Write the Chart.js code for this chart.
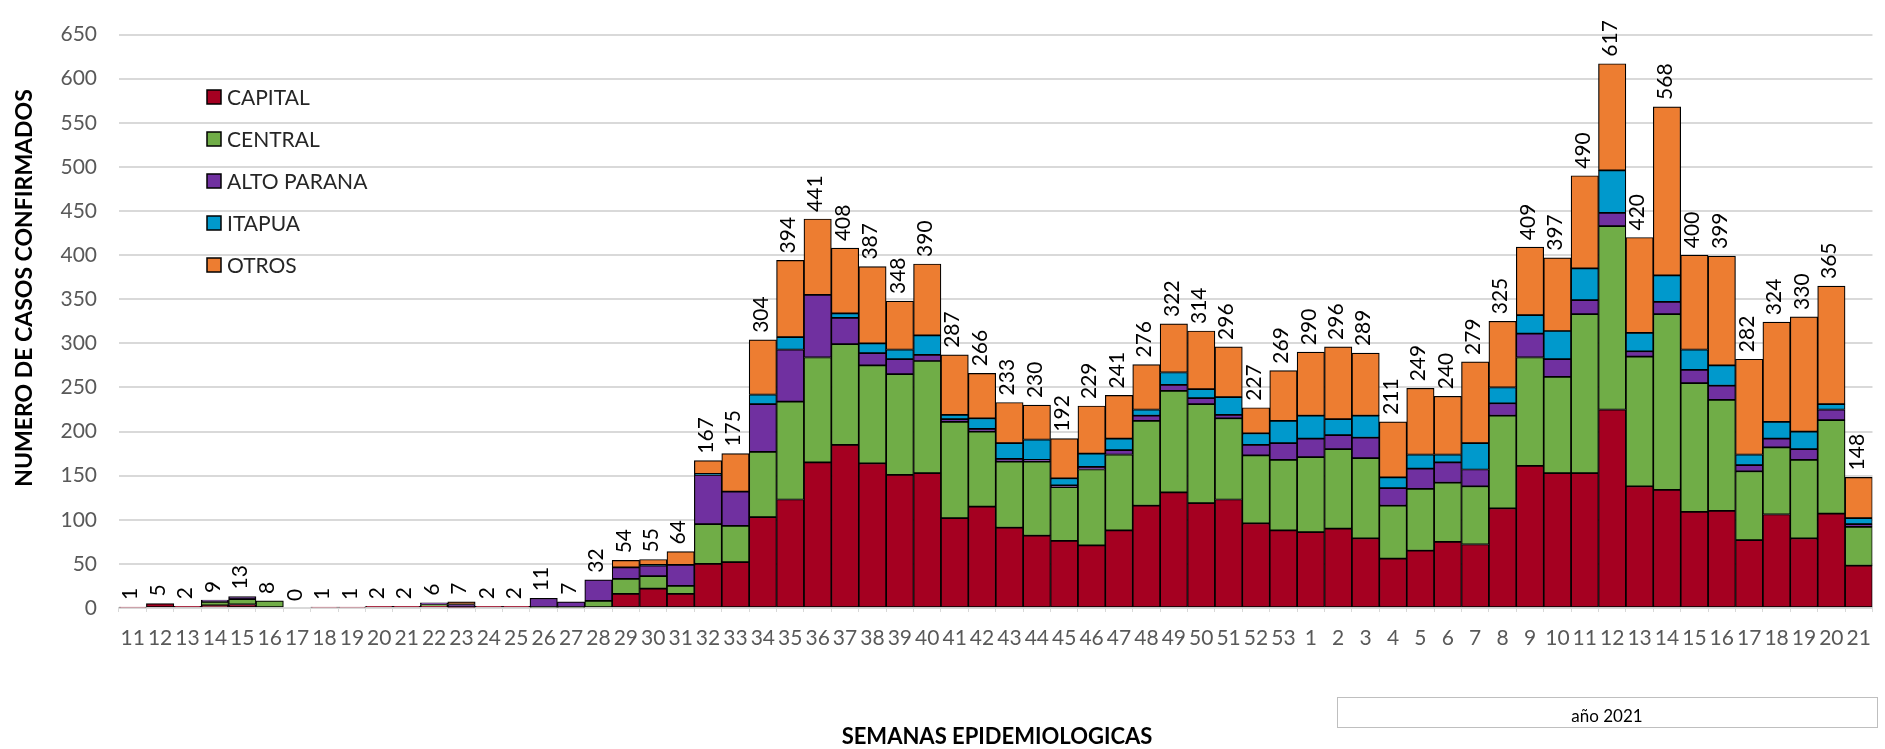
<!DOCTYPE html>
<html>
<head>
<meta charset="utf-8">
<script src="https://cdn.jsdelivr.net/npm/chart.js@4.4.1/dist/chart.umd.min.js"></script>
<style>
  body { margin: 0; background: #fff; }
  canvas { display: block; }
</style>
</head>
<body>
<canvas id="mychart" width="1885" height="749"></canvas>
<script>
// semanas epidemiologicas 11..53 (2020) y 1..21 (2021)
const semanas = ['11','12','13','14','15','16','17','18','19','20','21','22','23','24','25','26','27','28','29','30',
  '31','32','33','34','35','36','37','38','39','40','41','42','43','44','45','46','47','48','49','50','51','52','53',
  '1','2','3','4','5','6','7','8','9','10','11','12','13','14','15','16','17','18','19','20','21'];

const capital = [1,5,2,3,4,0,0,1,1,2,2,2,1,2,2,0,0,0,16,22,
  16,50,52,103,123,165,185,164,151,153,102,115,91,82,76,71,88,116,131,119,123,96,88,
  86,90,79,56,65,75,72,113,161,153,153,225,138,134,109,110,77,106,79,107,48];
const central = [0,0,0,4,6,8,0,0,0,0,0,2,0,0,0,1,1,8,17,14,
  9,45,41,74,111,119,114,111,114,127,109,85,75,84,61,86,86,96,115,112,92,77,80,
  85,90,91,60,70,67,66,105,123,109,180,208,147,199,146,126,78,76,89,106,44];
const altoParana = [0,0,0,2,3,0,0,0,0,0,0,2,3,0,0,10,6,24,13,12,
  24,56,39,54,59,71,30,14,17,7,3,3,3,2,2,3,5,6,7,7,4,12,19,
  21,16,23,20,23,23,19,14,27,20,16,15,6,14,15,16,7,10,12,12,3];
const itapua = [0,0,0,0,0,0,0,0,0,0,0,0,0,0,0,0,0,0,0,1,
  0,1,0,11,14,0,5,11,11,22,5,12,18,23,8,15,13,7,14,10,20,13,25,
  26,18,25,12,16,9,30,18,21,32,36,48,21,30,23,23,12,19,20,6,7];
const otros = [0,0,0,0,0,0,0,0,0,0,0,0,3,0,0,0,0,0,8,6,
  15,15,43,62,87,86,74,87,55,81,68,51,46,39,45,54,49,51,55,66,57,29,57,
  72,82,71,63,75,66,92,75,77,83,105,121,108,191,107,124,108,113,130,134,46];

// totales escritos sobre cada barra
const totales = [1,5,2,9,13,8,0,1,1,2,2,6,7,2,2,11,7,32,54,55,
  64,167,175,304,394,441,408,387,348,390,287,266,233,230,192,229,241,276,322,314,296,227,269,
  290,296,289,211,249,240,279,325,409,397,490,617,420,568,400,399,282,324,330,365,148];

const yTicks = [0,50,100,150,200,250,300,350,400,450,500,550,600,650];

const extras = {
  id: 'extras',
  afterDatasetsDraw(chart) {
    const ctx = chart.ctx;
    const x = chart.scales.x, y = chart.scales.y;
    ctx.save();
    ctx.fillStyle = '#000';
    ctx.font = '21px Lato';
    ctx.textAlign = 'left';
    ctx.textBaseline = 'middle';
    totales.forEach((t, i) => {
      ctx.save();
      ctx.translate(x.getPixelForValue(i) - 2, y.getPixelForValue(t) - 7);
      ctx.rotate(-Math.PI / 2);
      ctx.fillText(String(t), 0, 0);
      ctx.restore();
    });
    ctx.restore();
  },
  afterDraw(chart) {
    const ctx = chart.ctx;
    ctx.save();
    // leyenda
    chart.data.datasets.forEach((ds, i) => {
      const cy = 97 + i * 42;
      ctx.fillStyle = ds.backgroundColor;
      ctx.fillRect(207, cy - 7, 14, 14);
      ctx.strokeStyle = '#000';
      ctx.lineWidth = 1.5;
      ctx.strokeRect(207, cy - 7, 14, 14);
      ctx.fillStyle = '#262626';
      ctx.font = '21px Lato';
      ctx.textAlign = 'left';
      ctx.textBaseline = 'middle';
      ctx.fillText(ds.label, 227, cy + 1);
    });
    // titulos de ejes
    ctx.fillStyle = '#000';
    ctx.font = 'bold 22px Lato';
    ctx.textAlign = 'center';
    ctx.textBaseline = 'middle';
    ctx.fillText('SEMANAS EPIDEMIOLOGICAS', 997, 737);
    ctx.save();
    ctx.translate(25, 288);
    ctx.rotate(-Math.PI / 2);
    ctx.font = 'bold 23px Lato';
    ctx.fillText('NUMERO DE CASOS CONFIRMADOS', 0, 0);
    ctx.restore();
    // caja año 2021
    ctx.strokeStyle = '#bfbfbf';
    ctx.lineWidth = 1;
    ctx.strokeRect(1337.5, 697.5, 540, 30);
    ctx.fillStyle = '#000';
    ctx.font = '17px Lato';
    ctx.fillText('año 2021', 1607, 717);
    ctx.restore();
  }
};

const ctx = document.getElementById('mychart').getContext('2d');
const bar = (label, data, color) => ({
  label: label,
  data: data,
  backgroundColor: color,
  borderColor: '#000',
  borderWidth: 1.2,
  borderSkipped: false,
  barPercentage: 1,
  categoryPercentage: 1
});

new Chart(ctx, {
  type: 'bar',
  data: {
    labels: semanas,
    datasets: [
      bar('CAPITAL', capital, '#a50021'),
      bar('CENTRAL', central, '#70ad47'),
      bar('ALTO PARANA', altoParana, '#7030a0'),
      bar('ITAPUA', itapua, '#0099cc'),
      bar('OTROS', otros, '#ed7d31')
    ]
  },
  options: {
    responsive: false,
    animation: false,
    layout: { padding: { top: 19, right: 7, left: 0, bottom: 0 } },
    plugins: { legend: { display: false }, tooltip: { enabled: false } },
    scales: {
      x: {
        stacked: true,
        afterFit: s => { s.height = 141; },
        grid: { drawOnChartArea: false, drawTicks: true, tickLength: 4, color: '#d9d9d9' },
        border: { display: true, color: '#d9d9d9', width: 2 },
        ticks: {
          autoSkip: false, maxRotation: 0, minRotation: 0, padding: 14,
          color: '#595959', font: { family: 'Lato', size: 21 }
        }
      },
      y: {
        stacked: true,
        min: 0,
        max: 650,
        afterFit: s => { s.width = 119; },
        afterBuildTicks: s => { s.ticks = yTicks.map(v => ({ value: v })); },
        grid: { color: '#d9d9d9', lineWidth: 2, drawTicks: false },
        border: { display: false },
        ticks: { padding: 22, color: '#595959', font: { family: 'Lato', size: 21 } }
      }
    }
  },
  plugins: [extras]
});
</script>
</body>
</html>
